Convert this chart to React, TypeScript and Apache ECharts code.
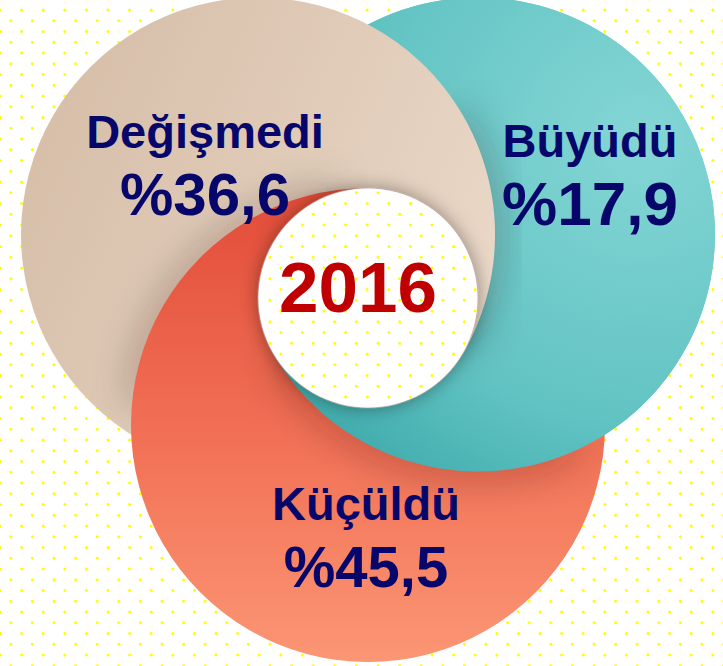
import React, { useEffect, useRef } from 'react';
import * as echarts from 'echarts';

// ---- data ----
const CATEGORIES = ['Değişmedi', 'Büyüdü', 'Küçüldü'];
const VALUES = [36.6, 17.9, 45.5];
const YEAR = '2016';

// ---- layout ----
const W = 723;
const H = 666;
const P: [number, number] = [368, 298]; // centre of the hole
const RH = 110; // hole radius
const R = 237; // big circle radius
const D = R - RH; // distance of each circle centre from hole centre
const CENTER_ANG = [210, 330, 90]; // beige, teal, red (deg, screen coords)
// part of each shape's visible edge that casts a soft shadow (deg)
const SHADOW_RANGE: [number, number][] = [[-64, 28], [36, 146], [156, 254]];
const LABEL_POS = [
  { x: 205, y: 131, vy: 194, fs: 60 },
  { x: 590, y: 140, vy: 203, fs: 62 },
  { x: 366, y: 503, vy: 566, fs: 58 },
];

const rad = (a: number) => (a * Math.PI) / 180;
const centers = CENTER_ANG.map((a) => [P[0] + D * Math.cos(rad(a)), P[1] + D * Math.sin(rad(a))]);

function boundary(c: number[], th: number): number[] {
  const u = [Math.cos(rad(th)), Math.sin(rad(th))];
  const v = [P[0] - c[0], P[1] - c[1]];
  const uv = u[0] * v[0] + u[1] * v[1];
  const vv = v[0] * v[0] + v[1] * v[1];
  const t = -uv + Math.sqrt(uv * uv - vv + R * R);
  return [P[0] + t * u[0], P[1] + t * u[1]];
}
function edge(c: number[], a: number, b: number, n = 160): number[][] {
  const pts: number[][] = [];
  for (let i = 0; i <= n; i++) pts.push(boundary(c, a + ((b - a) * i) / n));
  return pts;
}
function band(c: number[], a: number, b: number): number[][] {
  const outer = edge(c, a, b);
  const inner: number[][] = [];
  const n = 120;
  for (let i = 0; i <= n; i++) {
    const th = b - ((b - a) * i) / n;
    inner.push([P[0] + (RH - 1) * Math.cos(rad(th)), P[1] + (RH - 1) * Math.sin(rad(th))]);
  }
  return outer.concat(inner);
}

const fmt = (v: number) => '%' + v.toFixed(1).replace('.', ',');

export default function App() {
  const ref = useRef<HTMLDivElement>(null);
  useEffect(() => {
    if (!ref.current) return;
    const chart = echarts.init(ref.current, undefined, { renderer: 'svg' });

    const beigeFill = new echarts.graphic.LinearGradient(20, 120, 490, 330, [
      { offset: 0, color: '#d6bea8' },
      { offset: 1, color: '#ead8c8' },
    ], true);
    const tealFill = new echarts.graphic.RadialGradient(640, 140, 470, [
      { offset: 0, color: '#84d6d5' },
      { offset: 0.6, color: '#62c3c3' },
      { offset: 1, color: '#35a4a5' },
    ], true);
    const redFill = new echarts.graphic.LinearGradient(0, 190, 0, 662, [
      { offset: 0, color: '#e24c38' },
      { offset: 0.55, color: '#f27257' },
      { offset: 1, color: '#fb9674' },
    ], true);
    const fills = [beigeFill, tealFill, redFill];

    const makeDot = (x: number, y: number) => ({
      type: 'circle',
      shape: { cx: x, cy: y, r: 1.5 },
      style: { fill: '#ffff00' },
      silent: true,
    });
    const dotsBack: any[] = [];
    const dotsHole: any[] = [];
    const step = 21.6;
    for (let k = 0; 10 + 10.75 * k < H + 5; k++) {
      const y = 10 + 10.75 * k;
      const x0 = k % 2 === 0 ? 0 : 10.8;
      for (let x = x0; x < W + 5; x += step) {
        dotsBack.push(makeDot(x, y));
        const dx = x - P[0];
        const dy = y - P[1];
        if (dx * dx + dy * dy < (RH - 2) * (RH - 2)) dotsHole.push(makeDot(x, y));
      }
    }

    const fullCircle = (i: number) => ({
      type: 'circle',
      shape: { cx: centers[i][0], cy: centers[i][1], r: R },
      style: { fill: fills[i] },
      silent: true,
    });
    // blurred stroke just inside the visible edge, so only its soft shadow shows
    const shadowArc = (i: number) => {
      const c = centers[i];
      const pts = edge(c, SHADOW_RANGE[i][0], SHADOW_RANGE[i][1], 120).map((p) => {
        const k = (R - 8) / R;
        return [c[0] + (p[0] - c[0]) * k, c[1] + (p[1] - c[1]) * k];
      });
      return {
        type: 'polyline',
        shape: { points: pts },
        style: {
          fill: null,
          stroke: 'rgba(40,15,5,0.85)',
          lineWidth: 10,
          shadowBlur: 40,
          shadowColor: 'rgba(40,15,0,0.9)',
        },
        silent: true,
      };
    };
    const redraw = (i: number, a: number, b: number) => ({
      type: 'polygon',
      shape: { points: band(centers[i], a, b) },
      style: { fill: fills[i] },
      silent: true,
    });

    const elements: any[] = [
      { type: 'rect', shape: { x: 0, y: 0, width: W, height: H }, style: { fill: '#ffffff' }, silent: true },
      ...dotsBack,
      fullCircle(1), // teal
      fullCircle(0), // beige
      shadowArc(2), // red edge shadow on beige
      fullCircle(2), // red
      shadowArc(1), // teal edge shadow on red
      redraw(1, -90, 150), // teal over red
      shadowArc(0), // beige edge shadow on teal
      redraw(0, -90, 30), // beige over teal
      {
        type: 'circle',
        shape: { cx: P[0], cy: P[1], r: RH },
        style: { fill: '#ffffff', stroke: 'rgba(170,150,140,0.6)', lineWidth: 1, shadowBlur: 18, shadowColor: 'rgba(30,0,0,0.38)' },
        silent: true,
      },
      ...dotsHole,
    ];

    const font = (fs: number) => `bold ${fs}px "Liberation Sans", Arial, Helvetica, sans-serif`;
    CATEGORIES.forEach((cat, i) => {
      const lp = LABEL_POS[i];
      elements.push({
        type: 'text',
        x: lp.x,
        y: lp.y,
        style: { text: cat, fill: '#07076b', font: font(47), align: 'center', verticalAlign: 'middle', textAlign: 'center', textVerticalAlign: 'middle' },
        silent: true,
      });
      elements.push({
        type: 'text',
        x: lp.x,
        y: lp.vy,
        style: { text: fmt(VALUES[i]), fill: '#07076b', font: font(lp.fs), align: 'center', verticalAlign: 'middle', textAlign: 'center', textVerticalAlign: 'middle' },
        silent: true,
      });
    });
    elements.push({
      type: 'text',
      x: 358,
      y: 287,
      style: { text: YEAR, fill: '#c00000', font: font(71), align: 'center', verticalAlign: 'middle', textAlign: 'center', textVerticalAlign: 'middle' },
      silent: true,
    });
    elements.forEach((el, i) => {
      el.z2 = i;
    });

    chart.setOption({
      animation: false,
      backgroundColor: '#ffffff',
      graphic: { elements },
    });
    return () => chart.dispose();
  }, []);
  return <div ref={ref} style={{ width: W, height: H, position: 'absolute', left: 0, top: 0 }} />;
}
